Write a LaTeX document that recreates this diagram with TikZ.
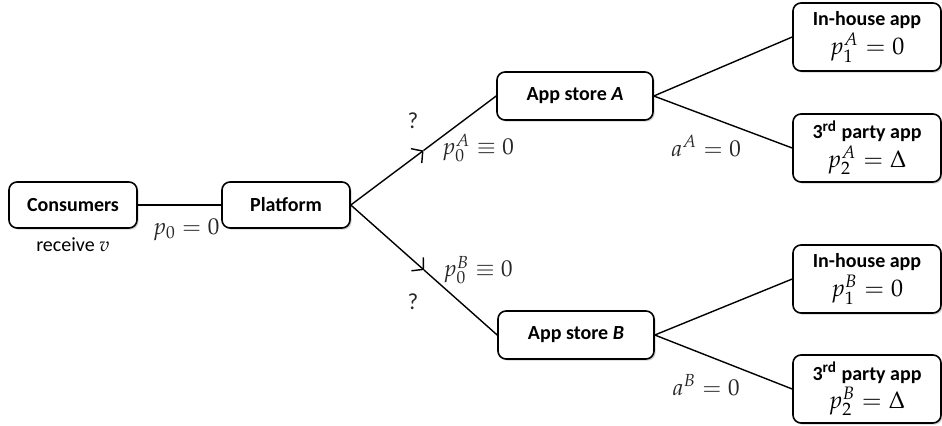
\documentclass[tikz,border=0pt]{standalone}
\usepackage{amsmath,amssymb}
\usepackage{mathpazo}
\usepackage[no-math]{fontspec}
\setmainfont{Carlito}
\usepackage{tikz}
\usetikzlibrary{calc,positioning,shadows,arrows.meta}
\tikzset{
    box/.style={
        rectangle,
        rounded corners=4pt,
        draw, thick,
        fill=white,
        font=\bfseries,
        align=center,
        drop shadow={shadow xshift=0.8pt, shadow yshift=-0.8pt, opacity=0.35}
    },
    agentbox/.style={box, minimum width=64pt, minimum height=23pt},
    storebox/.style={box, minimum width=78pt, minimum height=24pt},
    appbox/.style={box, minimum width=74pt, minimum height=34pt, inner sep=1pt},
    link/.style={draw, line width=0.7pt},
    halfarrow/.style={link, -{Straight Barb[length=4pt,width=9pt]}},
    price/.style={font=\fontsize{11.5pt}{13pt}\selectfont, text=black!85},
}

\begin{document}
\begin{tikzpicture}[x=0.5pt, y=0.5pt]
\useasboundingbox (0,0) rectangle (942,425);
% agents
\node[agentbox](Con) at (73, 220){Consumers};
\node[agentbox](Plat) at (286, 220){Platform};
\node(Recv)[below=1pt of Con]{receive $v$};
% app stores
\node[storebox](StA) at (575, 329){App store \textit{A}};
\node[storebox](StB) at (576, 90){App store \textit{B}};
% apps
\node[appbox](InA) at (867, 388){In-house app\\[1pt] {\mdseries\large $p_1^A = 0$}};
\node[appbox](ThA) at (867, 277){3\textsuperscript{rd} party app\\[1pt] {\mdseries\large $p_2^A = \Delta$}};
\node[appbox](InB) at (867, 146){In-house app\\[1pt] {\mdseries\large $p_1^B = 0$}};
\node[appbox](ThB) at (867, 36){3\textsuperscript{rd} party app\\[1pt] {\mdseries\large $p_2^B = \Delta$}};
% links
\coordinate (MidA) at ($(Plat.east)!0.5!(StA.west)$);
\coordinate (MidB) at ($(Plat.east)!0.5!(StB.west)$);
\draw[link] (Con) -- (Plat);
\draw[halfarrow] (Plat.east) -- (MidA);
\draw[link] (MidA) -- (StA.west);
\draw[halfarrow] (Plat.east) -- (MidB);
\draw[link] (MidB) -- (StB.west);
\draw[link] (StA.east) -- (InA.west);
\draw[link] (StA.east) -- (ThA.west);
\draw[link] (StB.east) -- (InB.west);
\draw[link] (StB.east) -- (ThB.west);
% prices
\node[price](PZero) at (186, 195){$p_0 = 0$};
\node[price](QA) at (413, 304){?};
\node[price](PA) at (478, 277){$p_0^A \equiv 0$};
\node[price](PB) at (478, 155){$p_0^B \equiv 0$};
\node[price](QB) at (413, 123){?};
\node[price](AA) at (706, 279){$a^A = 0$};
\node[price](AB) at (706, 40){$a^B = 0$};
\end{tikzpicture}
\end{document}
